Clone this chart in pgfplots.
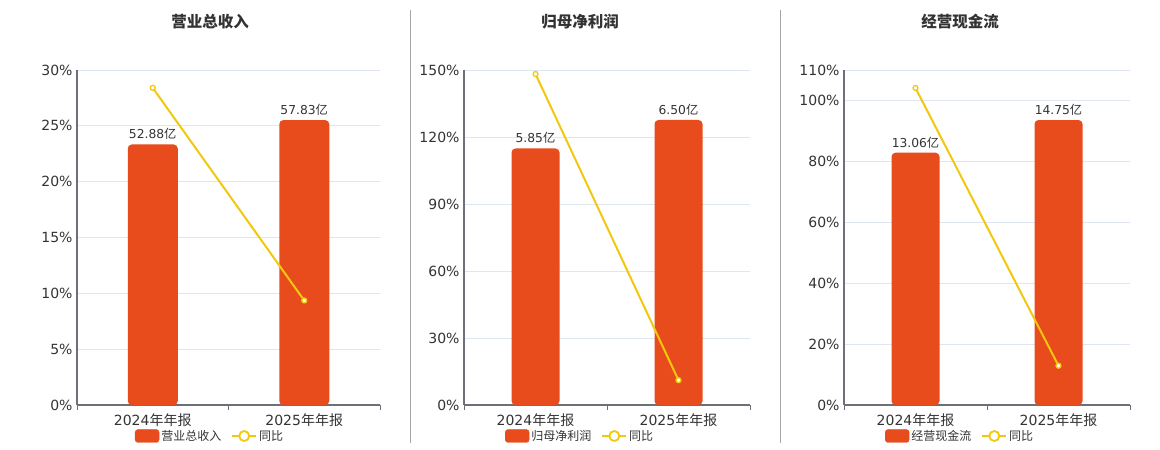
\documentclass[border=0pt]{standalone}
\usepackage{pgfplots}
\pgfplotsset{compat=1.18}
\usepackage{fontspec}
\setmainfont{DejaVu Sans}
\newfontfamily\cjk{Noto Sans CJK SC}
\definecolor{barc}{HTML}{E84B1C}
\definecolor{linec}{HTML}{F2C80F}
\definecolor{gridc}{HTML}{E0E6F1}
\definecolor{axc}{HTML}{6E7079}
\definecolor{txt}{HTML}{333333}
\pgfplotsset{
  /pgf/number format/assume math mode=true,
  panel/.style={
    scale only axis, height=335pt, anchor=south west,
    xmin=-0.5, xmax=1.5, ymin=0,
  },
  gridaxis/.style={
    panel,
    axis x line*=bottom, axis y line*=left,
    ymajorgrids, grid style={gridc, line width=0.8pt},
    xtick={0,1},
    xticklabels={{2024{\cjk 年年报}},{2025{\cjk 年年报}}},
    minor xtick={-0.5,0.5,1.5},
    major tick length=0pt, minor tick length=5pt,
    tick align=outside,
    tick style={axc, line width=0.8pt},
    axis line style={axc, line width=1.2pt},
    tick label style={txt, font=\fontsize{14}{16}\selectfont},
    x tick label style={yshift=-5pt},
    y tick label style={xshift=-1pt},
    yticklabel={\pgfmathprintnumber{\tick}\%},
  },
  baraxis/.style={
    panel, hide axis, clip=false,
    ybar, bar shift=0pt,
    nodes near coords={\pgfmathprintnumber[fixed,fixed zerofill,precision=2]{\pgfplotspointmeta}{\cjk 亿}},
    nodes near coords style={txt, font=\fontsize{12.3}{14}\selectfont, yshift=1pt},
  },
  lineaxis/.style={
    panel, hide axis, clip=false,
    legend columns=2,
    legend style={draw=none, fill=none, anchor=center,
      font=\cjk\fontsize{12}{14}\selectfont, text=txt,
      /tikz/every even column/.append style={column sep=8pt}},
  },
  barleg/.style={legend image code/.code={\fill[barc, rounded corners=3pt] (0pt,-6.5pt) rectangle (24pt,6.5pt);}},
  lineleg/.style={legend image code/.code={\draw[linec, line width=1.8pt] (0pt,0pt) -- (24pt,0pt); \draw[linec, line width=1.8pt, fill=white] (12pt,0pt) circle (5pt);}},
  yoy/.style={linec, line width=2pt, mark=*, mark size=2.5pt, mark options={fill=white, draw=linec, line width=1.3pt}},
}
\begin{document}
\begin{tikzpicture}
\path[use as bounding box] (0,0) rectangle (1160pt,450pt);
\draw[color=black!35, line width=1pt] (410pt,7pt) -- (410pt,440pt);
\draw[color=black!35, line width=1pt] (780pt,7pt) -- (780pt,440pt);
\node[font=\cjk\bfseries\fontsize{15.5}{18}\selectfont, text=txt] at (210pt,428pt) {营业总收入};
\node[font=\cjk\bfseries\fontsize{15.5}{18}\selectfont, text=txt] at (580pt,428pt) {归母净利润};
\node[font=\cjk\bfseries\fontsize{15.5}{18}\selectfont, text=txt] at (960pt,428pt) {经营现金流};

% ---------- Panel 1 ----------
\begin{axis}[gridaxis, width=303pt, at={(77pt,45pt)}, ymax=30, ytick={0,5,...,30}]
\addplot[draw=none, forget plot] coordinates {(0,0)};
\end{axis}
\begin{axis}[baraxis, width=303pt, at={(77pt,45pt)}, ymax=68, bar width=50pt]
\addplot[fill=barc, draw=none, rounded corners=4pt] coordinates {(0,52.88) (1,57.83)};
\end{axis}
\begin{axis}[lineaxis, width=303pt, at={(77pt,45pt)}, ymax=30, legend style={at={(0.439,-0.0925)}}]
\addlegendimage{barleg}
\addlegendentry{营业总收入}
\addlegendimage{lineleg}
\addlegendentry{同比}
\addplot[yoy, forget plot] coordinates {(0,28.4) (1,9.36)};
\end{axis}

% ---------- Panel 2 ----------
\begin{axis}[gridaxis, width=286pt, at={(464pt,45pt)}, ymax=150, ytick={0,30,...,150}]
\addplot[draw=none, forget plot] coordinates {(0,0)};
\end{axis}
\begin{axis}[baraxis, width=286pt, at={(464pt,45pt)}, ymax=7.64, bar width=48pt]
\addplot[fill=barc, draw=none, rounded corners=4pt] coordinates {(0,5.85) (1,6.50)};
\end{axis}
\begin{axis}[lineaxis, width=286pt, at={(464pt,45pt)}, ymax=150, legend style={at={(0.406,-0.0925)}}]
\addlegendimage{barleg}
\addlegendentry{归母净利润}
\addlegendimage{lineleg}
\addlegendentry{同比}
\addplot[yoy, forget plot] coordinates {(0,148.2) (1,11.1)};
\end{axis}

% ---------- Panel 3 ----------
\begin{axis}[gridaxis, width=286pt, at={(844pt,45pt)}, ymax=110, ytick={0,20,40,60,80,100,110}]
\addplot[draw=none, forget plot] coordinates {(0,0)};
\end{axis}
\begin{axis}[baraxis, width=286pt, at={(844pt,45pt)}, ymax=17.34, bar width=48pt]
\addplot[fill=barc, draw=none, rounded corners=4pt] coordinates {(0,13.06) (1,14.75)};
\end{axis}
\begin{axis}[lineaxis, width=286pt, at={(844pt,45pt)}, ymax=110, legend style={at={(0.406,-0.0925)}}]
\addlegendimage{barleg}
\addlegendentry{经营现金流}
\addlegendimage{lineleg}
\addlegendentry{同比}
\addplot[yoy, forget plot] coordinates {(0,104.1) (1,12.9)};
\end{axis}
\end{tikzpicture}
\end{document}
